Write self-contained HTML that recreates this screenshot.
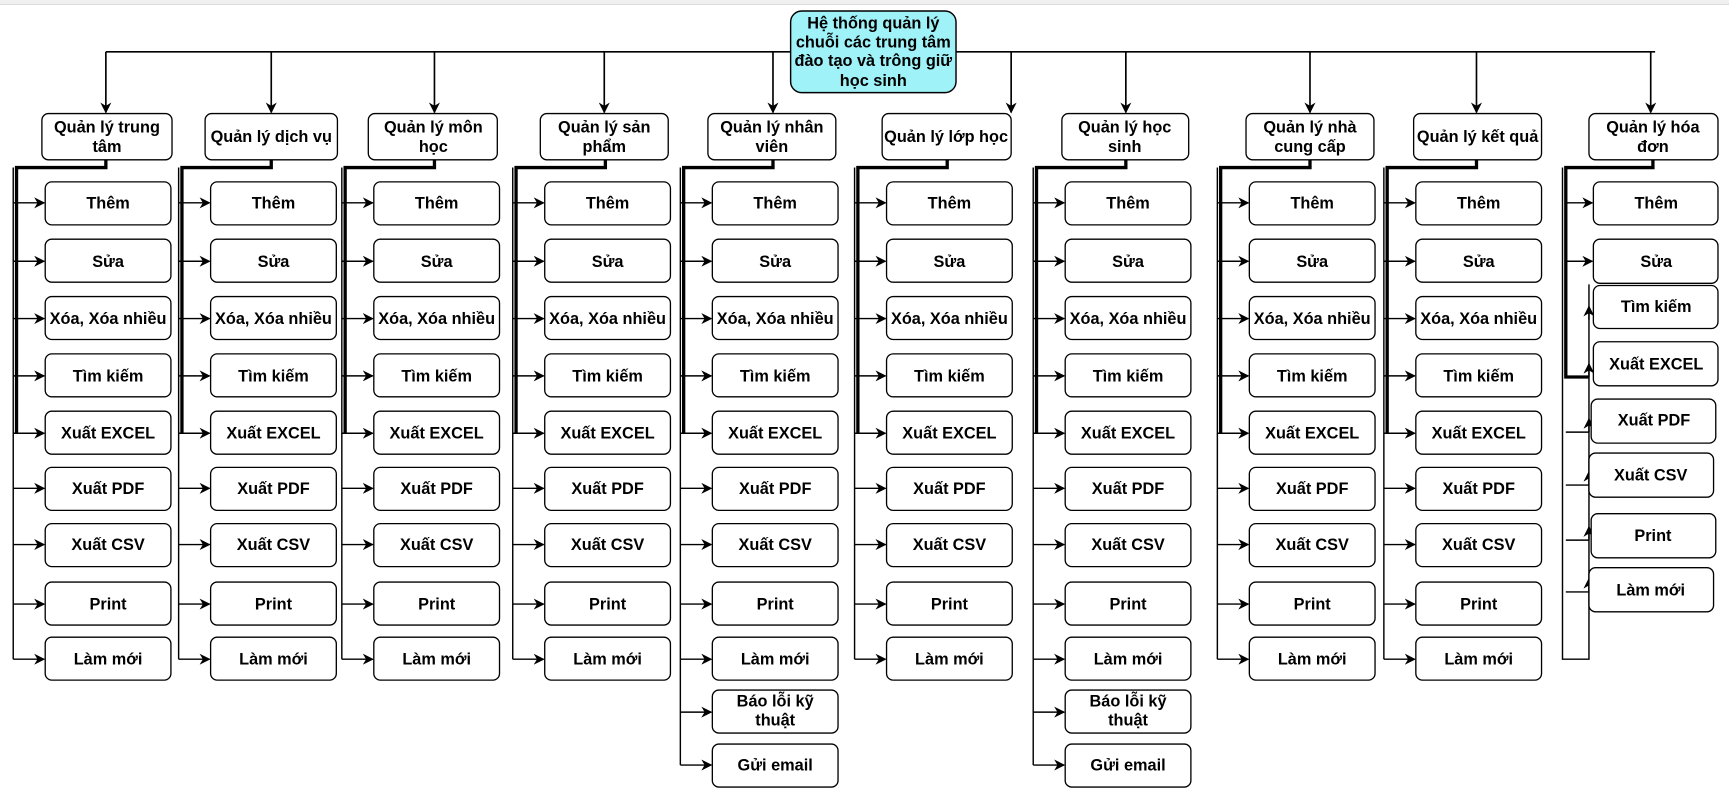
<!DOCTYPE html>
<html><head><meta charset="utf-8"><style>
html,body{margin:0;padding:0;background:#fff;}
svg{display:block;}
text{font-family:"Liberation Sans",Arial,sans-serif;font-weight:bold;font-size:14.8px;fill:#000;text-anchor:middle;}
rect.b{fill:#fff;stroke:#000;stroke-width:1.2;}
</style></head><body>
<svg width="1729" height="797" viewBox="0 0 1568 723" preserveAspectRatio="none" xmlns="http://www.w3.org/2000/svg">
<defs>
<marker id="a" markerWidth="10" markerHeight="10" refX="9" refY="5" orient="auto" markerUnits="userSpaceOnUse"><path d="M0,0 L10,5 L0,10 L3,5 Z" fill="#000"/></marker>
<g id="rows9">
<path d="M83,145 V152 H2 V393" fill="none" stroke="#000" stroke-width="3"/>
<path d="M-1,152 V598" fill="none" stroke="#000" stroke-width="1.3"/>
<g stroke="#000" stroke-width="1.3" marker-end="url(#a)">
<line x1="-1" y1="184" x2="27" y2="184"/><line x1="-1" y1="237" x2="27" y2="237"/><line x1="-1" y1="289" x2="27" y2="289"/><line x1="-1" y1="341" x2="27" y2="341"/><line x1="-1" y1="393" x2="27" y2="393"/><line x1="-1" y1="443" x2="27" y2="443"/><line x1="-1" y1="494" x2="27" y2="494"/><line x1="-1" y1="548" x2="27" y2="548"/><line x1="-1" y1="598" x2="27" y2="598"/>
</g>
<rect class="b" x="28" y="165" width="114" height="39" rx="6"/>
<rect class="b" x="28" y="217" width="114" height="39" rx="6"/>
<rect class="b" x="28" y="269" width="114" height="39" rx="6"/>
<rect class="b" x="28" y="321" width="114" height="39" rx="6"/>
<rect class="b" x="28" y="373" width="114" height="39" rx="6"/>
<rect class="b" x="28" y="424" width="114" height="39" rx="6"/>
<rect class="b" x="28" y="475" width="114" height="39" rx="6"/>
<rect class="b" x="28" y="528" width="114" height="39" rx="6"/>
<rect class="b" x="28" y="578" width="114" height="39" rx="6"/>
<text x="85" y="189">Thêm</text>
<text x="85" y="242">Sửa</text>
<text x="85" y="294">Xóa, Xóa nhiều</text>
<text x="85" y="346">Tìm kiếm</text>
<text x="85" y="398">Xuất EXCEL</text>
<text x="85" y="448">Xuất PDF</text>
<text x="85" y="499">Xuất CSV</text>
<text x="85" y="553">Print</text>
<text x="85" y="603">Làm mới</text>
</g>
<g id="extra">
<path d="M-1,598 V694" fill="none" stroke="#000" stroke-width="1.3"/>
<g stroke="#000" stroke-width="1.3" marker-end="url(#a)">
<line x1="-1" y1="646" x2="27" y2="646"/><line x1="-1" y1="694" x2="27" y2="694"/>
</g>
<rect class="b" x="28" y="626" width="114" height="39" rx="6"/>
<rect class="b" x="28" y="675" width="114" height="39" rx="6"/>
<text x="85" y="641">Báo lỗi kỹ</text>
<text x="85" y="658">thuật</text>
<text x="85" y="699">Gửi email</text>
</g>
</defs>
<rect x="0" y="0" width="1568" height="4" fill="#f0f0f0"/>
<line x1="0" y1="4" x2="1568" y2="4" stroke="#dcdcdc" stroke-width="1"/>

<path d="M96,47 H1501" fill="none" stroke="#000" stroke-width="1.5"/>
<g stroke="#000" stroke-width="1.5" marker-end="url(#a)">
<line x1="96" y1="47" x2="96" y2="102"/>
<line x1="246" y1="47" x2="246" y2="102"/>
<line x1="394" y1="47" x2="394" y2="102"/>
<line x1="548" y1="47" x2="548" y2="102"/>
<line x1="701" y1="47" x2="701" y2="102"/>
<line x1="917" y1="47" x2="917" y2="102"/>
<line x1="1021" y1="47" x2="1021" y2="102"/>
<line x1="1188" y1="47" x2="1188" y2="102"/>
<line x1="1339" y1="47" x2="1339" y2="102"/>
<line x1="1497" y1="47" x2="1497" y2="102"/>
</g>
<rect x="717" y="10" width="150" height="74" rx="10" fill="#9ef2f8" stroke="#000" stroke-width="1.3"/>
<text x="792" y="26">Hệ thống quản lý</text>
<text x="792" y="43">chuỗi các trung tâm</text>
<text x="792" y="60">đào tạo và trông giữ</text>
<text x="792" y="78">học sinh</text>

<g>
<rect class="b" x="38" y="103" width="118" height="42" rx="6"/><text x="97" y="120">Quản lý trung</text><text x="97" y="138">tâm</text>
<rect class="b" x="186" y="103" width="120" height="42" rx="6"/><text x="246" y="129">Quản lý dịch vụ</text>
<rect class="b" x="334" y="103" width="117" height="42" rx="6"/><text x="393" y="120">Quản lý môn</text><text x="393" y="138">học</text>
<rect class="b" x="490" y="103" width="116" height="42" rx="6"/><text x="548" y="120">Quản lý sản</text><text x="548" y="138">phẩm</text>
<rect class="b" x="642" y="103" width="116" height="42" rx="6"/><text x="700" y="120">Quản lý nhân</text><text x="700" y="138">viên</text>
<rect class="b" x="800" y="103" width="117" height="42" rx="6"/><text x="858" y="129">Quản lý lớp học</text>
<rect class="b" x="963" y="103" width="115" height="42" rx="6"/><text x="1020" y="120">Quản lý học</text><text x="1020" y="138">sinh</text>
<rect class="b" x="1130" y="103" width="116" height="42" rx="6"/><text x="1188" y="120">Quản lý nhà</text><text x="1188" y="138">cung cấp</text>
<rect class="b" x="1282" y="103" width="116" height="42" rx="6"/><text x="1340" y="129">Quản lý kết quả</text>
<rect class="b" x="1441" y="103" width="117" height="42" rx="6"/><text x="1499" y="120">Quản lý hóa</text><text x="1499" y="138">đơn</text>
</g>

<use href="#rows9" transform="translate(13,0)"/>
<use href="#rows9" transform="translate(163,0)"/>
<use href="#rows9" transform="translate(311,0)"/>
<use href="#rows9" transform="translate(466,0)"/>
<use href="#rows9" transform="translate(618,0)"/>
<use href="#extra" transform="translate(618,0)"/>
<use href="#rows9" transform="translate(776,0)"/>
<use href="#rows9" transform="translate(938,0)"/>
<use href="#extra" transform="translate(938,0)"/>
<use href="#rows9" transform="translate(1105,0)"/>
<use href="#rows9" transform="translate(1256,0)"/>

<g>
<path d="M1499,145 V152 H1420 V342 H1441" fill="none" stroke="#000" stroke-width="3"/>
<path d="M1417,152 V598 H1441 V258" fill="none" stroke="#000" stroke-width="1.3"/>
<g stroke="#000" stroke-width="1.3" fill="none">
<path d="M1420,392 H1441"/><path d="M1420,440 H1441"/><path d="M1420,490 H1441"/><path d="M1420,537 H1441"/>
</g>
<g stroke="#000" stroke-width="1.3" marker-end="url(#a)">
<line x1="1420" y1="184" x2="1444" y2="184"/><line x1="1420" y1="237" x2="1444" y2="237"/>
<line x1="1441" y1="290" x2="1441" y2="278"/><line x1="1441" y1="342" x2="1441" y2="330"/><line x1="1441" y1="392" x2="1441" y2="380"/><line x1="1441" y1="440" x2="1441" y2="428"/><line x1="1441" y1="490" x2="1441" y2="478"/><line x1="1441" y1="537" x2="1441" y2="525"/>
</g>
<rect class="b" x="1445" y="165" width="113" height="39" rx="6"/>
<rect class="b" x="1445" y="217" width="113" height="40" rx="6"/>
<rect class="b" x="1445" y="259" width="113" height="39" rx="6"/>
<rect class="b" x="1445" y="310" width="113" height="40" rx="6"/>
<rect class="b" x="1443" y="362" width="113" height="40" rx="6"/>
<rect class="b" x="1441" y="411" width="113" height="40" rx="6"/>
<rect class="b" x="1443" y="466" width="113" height="40" rx="6"/>
<rect class="b" x="1441" y="515" width="113" height="40" rx="6"/>
<text x="1502" y="189">Thêm</text>
<text x="1502" y="242">Sửa</text>
<text x="1502" y="283">Tìm kiếm</text>
<text x="1502" y="335">Xuất EXCEL</text>
<text x="1500" y="386">Xuất PDF</text>
<text x="1497" y="436">Xuất CSV</text>
<text x="1499" y="491">Print</text>
<text x="1497" y="540">Làm mới</text>
</g>
</svg>
</body></html>
